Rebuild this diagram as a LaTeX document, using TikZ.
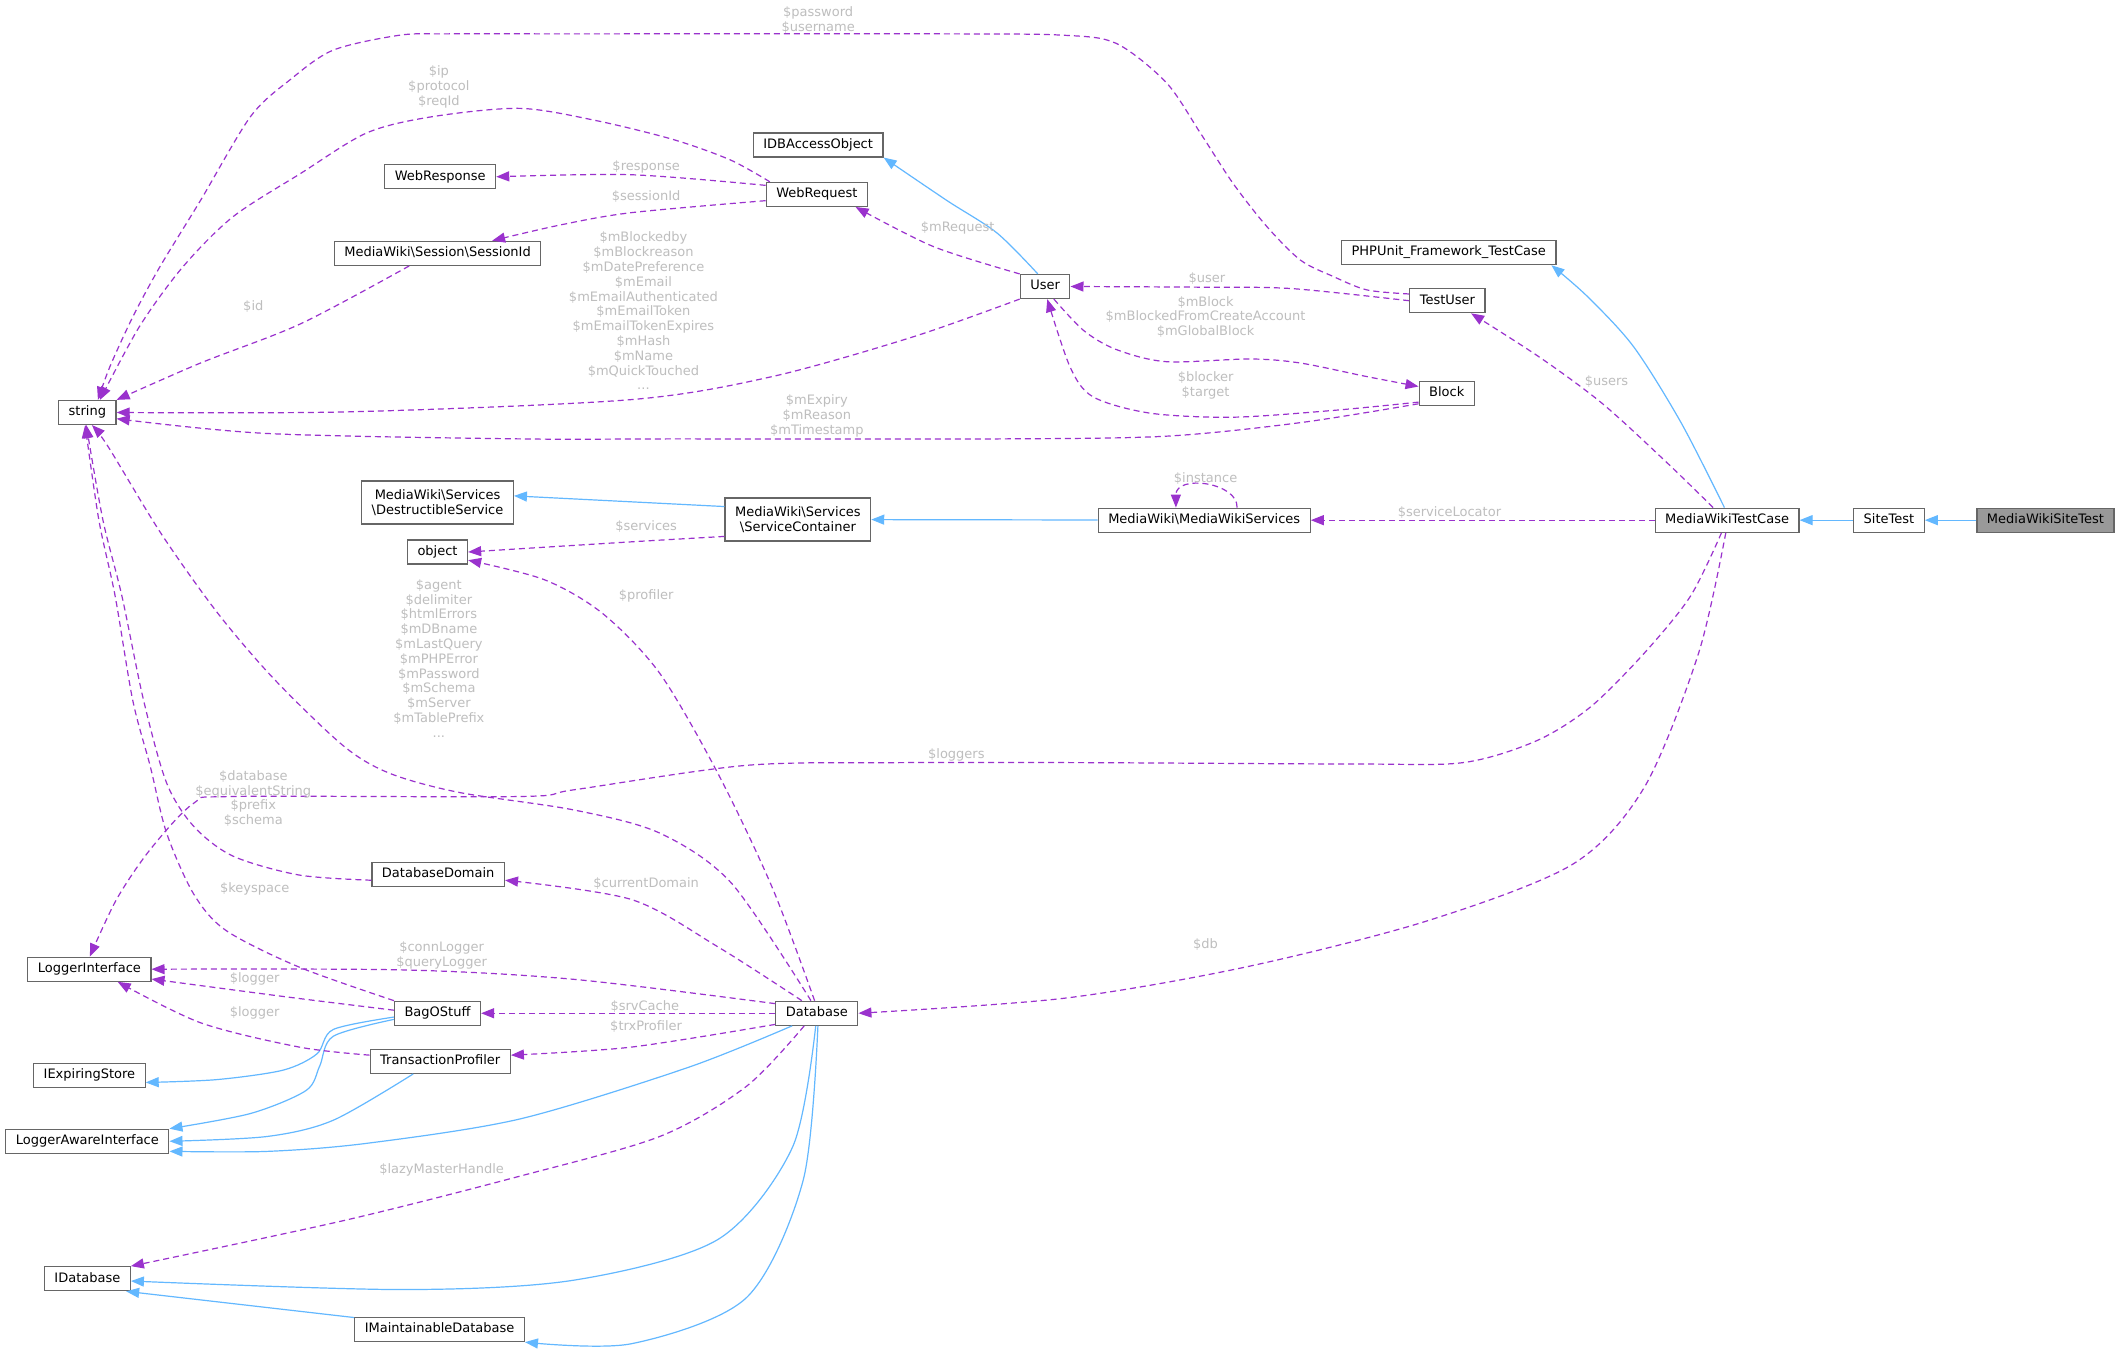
\documentclass[tikz,border=0pt]{standalone}
\usepackage{fontspec}
\setmainfont{DejaVu Sans}
\usepackage{tikz}
\usetikzlibrary{arrows.meta}

\definecolor{memberpurple}{HTML}{9A32CD}
\definecolor{inheritblue}{HTML}{63B8FF}
\definecolor{labelgrey}{HTML}{BEBEBE}
\definecolor{nodeborder}{HTML}{666666}
\definecolor{rootfill}{HTML}{999999}

\newcommand{\dxfont}{\fontsize{13}{14.8}\selectfont}

\tikzset{
  clsbase/.style={draw=nodeborder, fill=white, line width=1.2pt, font=\dxfont, inner xsep=10pt},
  cls/.style={clsbase, inner ysep=0pt, minimum height=24pt, text height=9.6pt, text depth=3pt},
  clstwo/.style={clsbase, align=center, inner ysep=0pt, minimum height=43pt},
  member/.style={draw=memberpurple, line width=1.2pt, dash pattern=on 6pt off 4pt,
    -{Triangle[length=13pt,width=10pt]}},
  inherit/.style={draw=inheritblue, line width=1.2pt, -{Triangle[length=13pt,width=10pt]}},
  lbl/.style={text=labelgrey, font=\dxfont, align=center, inner sep=0pt}
}

\begin{document}
\begin{tikzpicture}[x=1.3546pt, y=-1.3546pt]
    \fill[white] (0,0) rectangle (1568,997);
    \useasboundingbox (0,0) rectangle (1568,997);

    % classes
    \node[cls] (str) at (64.5,304.5) {string};
    \node[cls] (idbAccess) at (604,107) {IDBAccessObject};
    \node[cls] (webResponse) at (325,130.5) {WebResponse};
    \node[cls] (webRequest) at (603,143.5) {WebRequest};
    \node[cls] (sessionId) at (323,187) {MediaWiki\textbackslash Session\textbackslash SessionId};
    \node[cls] (user) at (771.5,211.5) {User};
    \node[cls] (phpunit) at (1069.5,186.5) {PHPUnit\_Framework\_TestCase};
    \node[cls] (testUser) at (1068.5,222) {TestUser};
    \node[cls] (block) at (1068,290.5) {Block};
    \node[clstwo] (destructible) at (323,371) {MediaWiki\textbackslash Services\\\textbackslash DestructibleService};
    \node[clstwo] (serviceContainer) at (589,383.5) {MediaWiki\textbackslash Services\\\textbackslash ServiceContainer};
    \node[cls] (obj) at (323,407.5) {object};
    \node[cls] (mwServices) at (889,384) {MediaWiki\textbackslash MediaWikiServices};
    \node[cls] (mwTestCase) at (1275,384) {MediaWikiTestCase};
    \node[cls] (siteTest) at (1394.5,384) {SiteTest};
    \node[cls, fill=rootfill] (mwSiteTest) at (1510,384) {MediaWikiSiteTest};
    \node[cls] (dbDomain) at (323.5,645.5) {DatabaseDomain};
    \node[cls] (loggerIface) at (66,715.5) {LoggerInterface};
    \node[cls] (bagOStuff) at (323,748) {BagOStuff};
    \node[cls] (database) at (603,748) {Database};
    \node[cls] (trxProfiler) at (325,783.5) {TransactionProfiler};
    \node[cls] (expiringStore) at (66,794) {IExpiringStore};
    \node[cls] (loggerAware) at (64.5,842.5) {LoggerAwareInterface};
    \node[cls] (iDatabase) at (64.5,944) {IDatabase};
    \node[cls] (maintainableDb) at (324.5,981.5) {IMaintainableDatabase};

    % inheritance
    \draw[inherit] (mwSiteTest) -- (siteTest);
    \draw[inherit] (siteTest) -- (mwTestCase);
    \draw[inherit] (mwServices) -- (serviceContainer);
    \draw[inherit] (serviceContainer.170) -- (destructible.5);
    \draw[inherit] plot[smooth] coordinates {(user.120) (736,172) (699,148) (idbAccess.south east)};
    \draw[inherit] plot[smooth] coordinates {(mwTestCase.102) (1241,312) (1206,256) (1172,219) (phpunit.-7)};
    \draw[inherit] plot[smooth] coordinates {(bagOStuff.-175) (246,760) (234,778) (209,790) (160,797) (expiringStore.-7)};
    \draw[inherit] plot[smooth] coordinates {(bagOStuff.-172) (246,765) (236,787) (226,805) (185,822) (loggerAware.north east)};
    \draw[inherit] plot[smooth] coordinates {(trxProfiler.-155) (246,827) (197,839) (loggerAware.east)};
    \draw[inherit] plot[smooth] coordinates {(database.-153) (508,788) (384,826) (271,844) (197,850) (loggerAware.-7)};
    \draw[inherit] plot[smooth] coordinates {(database.-95) (585,847) (530,915) (424,945) (297,952) (iDatabase.-3)};
    \draw[inherit] plot[smooth] coordinates {(database.-85) (593,871) (551,958) (466,992) (maintainableDb.south east)};
    \draw[inherit] (maintainableDb.172) -- (iDatabase.-18);

    % members
    \draw[member] plot[smooth] coordinates {(testUser.170) (1009,214) (984,204) (960,192) (935,167) (910,135) (886,98) (861,61) (824,32) (785,26) (700,25) (420,25) (330,25) (295,26) (246,37) (214,59) (185,86) (148,148) (118,197) (98,234) (81,271) (str.50)};
    \node[lbl] (lPassword) at (604,14.5) {\$password\\\$username};

    \draw[member] plot[smooth] coordinates {(webRequest.165) (539,118) (497,103) (440,89) (384,80) (320,86) (271,98) (222,128) (172,160) (135,197) (103,241) (str.45)};
    \node[lbl] (lIp) at (324,64) {\$ip\\\$protocol\\\$reqId};

    \draw[member] plot[smooth] coordinates {(webRequest.170) (466,129) (webResponse.east)};
    \node[lbl] (lResponse) at (477,123) {\$response};

    \draw[member] plot[smooth] coordinates {(webRequest.-173) (466,157) (414,166) (sessionId.13)};
    \node[lbl] (lSessionId) at (477,145) {\$sessionId};

    \draw[member] plot[smooth] coordinates {(sessionId.-156) (222,239) (148,268) (str.north east)};
    \node[lbl] (lId) at (187,226) {\$id};

    \draw[member] plot[smooth] coordinates {(user.north west) (689,182) (webRequest.-18)};
    \node[lbl] (lRequest) at (707,168) {\$mRequest};

    \draw[member] plot[smooth] coordinates {(user.south west) (673,249) (570,278) (466,295) (259,304) (str.east)};
    \node[lbl] (lUserFields) at (475,229.5) {\$mBlockedby\\\$mBlockreason\\\$mDatePreference\\\$mEmail\\\$mEmailAuthenticated\\\$mEmailToken\\\$mEmailTokenExpires\\\$mHash\\\$mName\\\$mQuickTouched\\...};

    \draw[member] plot[smooth] coordinates {(testUser.west) (953,213) (886,212) (user.east)};
    \node[lbl] (lUser) at (891,205.5) {\$user};

    \draw[member] plot[smooth] coordinates {(user.-55) (800,244) (824,258) (861,267) (923,265) (960,268) (1009,278) (block.166)};
    \node[lbl] (lBlock) at (890,234) {\$mBlock\\\$mBlockedFromCreateAccount\\\$mGlobalBlock};

    \draw[member] plot[smooth] coordinates {(block.-163) (984,303) (910,308) (849,305) (807,293) (790,271) (user.-80)};
    \node[lbl] (lBlocker) at (890,284.5) {\$blocker\\\$target};

    \draw[member] plot[smooth] coordinates {(block.-160) (960,312) (861,322) (738,324) (500,324) (384,324) (197,320) (str.-12)};
    \node[lbl] (lExpiry) at (603,307) {\$mExpiry\\\$mReason\\\$mTimestamp};

    \draw[member] plot[smooth] coordinates {(mwTestCase.138) (1230,341) (1183,298) (1137,264) (testUser.-28)};
    \node[lbl] (lUsers) at (1186,282) {\$users};

    \draw[member] (mwServices.21) .. controls (914,356) and (868,350) .. (mwServices.156);
    \node[lbl] (lInstance) at (890,353) {\$instance};

    \draw[member] (mwTestCase) -- (mwServices);
    \node[lbl] (lLocator) at (1070,378) {\$serviceLocator};

    \draw[member] plot[smooth] coordinates {(serviceContainer.-167) (466,400) (obj.east)};
    \node[lbl] (lServices) at (477,389) {\$services};

    \draw[member] plot[smooth] coordinates {(database.100) (570,655) (530,571) (487,497) (445,453) (402,428) (obj.-15)};
    \node[lbl] (lProfiler) at (477,440) {\$profiler};

    \draw[member] plot[smooth] coordinates {(database.115) (540,652) (487,615) (424,598) (339,585) (288,571) (254,551) (203,502) (161,453) (119,394) (80,330) (str.-70)};
    \node[lbl] (lDbFields) at (324,486) {\$agent\\\$delimiter\\\$htmlErrors\\\$mDBname\\\$mLastQuery\\\$mPHPError\\\$mPassword\\\$mSchema\\\$mServer\\\$mTablePrefix\\...};

    \draw[member] plot[smooth] coordinates {(mwTestCase.-114) (1248,440) (1214,482) (1174,522) (1134,547) (1080,563) (1000,564) (800,563) (664,563) (551,565) (424,583) (384,588) (172,588) (143,593) (111,627) (86,664) (loggerIface.88)};
    \node[lbl] (lLoggers) at (706,557) {\$loggers};

    \draw[member] plot[smooth] coordinates {(dbDomain.-175) (221,646) (172,632) (143,610) (123,578) (106,517) (90,440) (76,384) (str.-95)};
    \node[lbl] (lDomain) at (187,589.5) {\$database\\\$equivalentString\\\$prefix\\\$schema};

    \draw[member] plot[smooth] coordinates {(bagOStuff.north west) (221,714) (167,687) (143,660) (123,615) (111,566) (98,517) (85,440) (73,384) (str.-100)};
    \node[lbl] (lKeyspace) at (188,656) {\$keyspace};

    \draw[member] plot[smooth] coordinates {(database.140) (530,699) (466,664) (dbDomain.-5)};
    \node[lbl] (lCurrentDomain) at (477,652) {\$currentDomain};

    \draw[member] plot[smooth] coordinates {(database.167) (424,723) (297,716) (loggerIface.east)};
    \node[lbl] (lConnLogger) at (326,705.5) {\$connLogger\\\$queryLogger};

    \draw[member] plot[smooth] coordinates {(bagOStuff.176) (212,736) (loggerIface.-9)};
    \node[lbl] (lBagLogger) at (188,723) {\$logger};

    \draw[member] plot[smooth] coordinates {(trxProfiler.175) (221,773) (148,755) (loggerIface.-24)};
    \node[lbl] (lTrxLogger) at (188,748) {\$logger};

    \draw[member] (database) -- (bagOStuff);
    \node[lbl] (lSrvCache) at (476,743) {\$srvCache};

    \draw[member] plot[smooth] coordinates {(database.-165) (466,773) (trxProfiler.5)};
    \node[lbl] (lTrxProfiler) at (477,758) {\$trxProfiler};

    \draw[member] plot[smooth] coordinates {(database.-135) (551,802) (487,839) (381,869) (254,901) (iDatabase.north east)};
    \node[lbl] (lLazy) at (326,864) {\$lazyMasterHandle};

    \draw[member] plot[smooth] coordinates {(mwTestCase.-96) (1254,482) (1214,581) (1161,638) (1053,680) (919,714) (785,737) (database.east)};
    \node[lbl] (lDb) at (890,697) {\$db};
\end{tikzpicture}
\end{document}
